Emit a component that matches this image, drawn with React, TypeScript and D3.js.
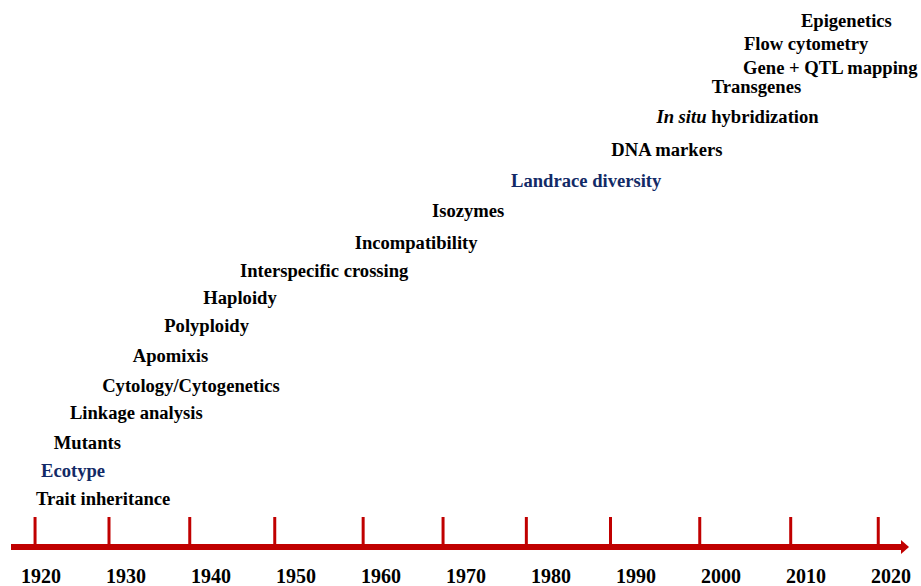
import React from "react";
import * as d3 from "d3";

// year labels on the axis
const yearLabels = [1920, 1930, 1940, 1950, 1960, 1970, 1980, 1990, 2000, 2010, 2020];
// tick marks as drawn on the original (they sit a bit off the labels)
const tickYears = [1919.3, 1928.0, 1937.5, 1947.5, 1957.9, 1967.3, 1977.1, 1987.0, 1997.5, 2008.2, 2018.5];

// milestones: start year of label, stacking level, colour group
const events = [
  "Trait inheritance",
  "Ecotype",
  "Mutants",
  "Linkage analysis",
  "Cytology/Cytogenetics",
  "Apomixis",
  "Polyploidy",
  "Haploidy",
  "Interspecific crossing",
  "Incompatibility",
  "Isozymes",
  "Landrace diversity",
  "DNA markers",
  "In situ hybridization",
  "Transgenes",
  "Gene + QTL mapping",
  "Flow cytometry",
  "Epigenetics",
];
const eventYears = [
  1919.4, 1920.0, 1921.5, 1923.4, 1927.2, 1930.8, 1934.5, 1939.1, 1943.4,
  1956.9, 1966.0, 1975.3, 1987.1, 1992.4, 1998.9, 2002.6, 2002.7, 2009.4,
];
const eventLevels = [
  0, 0.97, 1.93, 2.97, 3.9, 4.93, 5.97, 6.93, 7.86,
  8.83, 9.93, 10.97, 12.03, 13.17, 14.21, 14.86, 15.69, 16.48,
];
const highlighted = ["Ecotype", "Landrace diversity"];

const W = 921;
const H = 586;

const App = () => {
  const x = d3.scaleLinear().domain([1920, 2020]).range([41, 891]);
  const y = d3.scaleLinear().domain([0, 1]).range([505, 476]);

  const axisY = 547;
  const red = "#C00000";
  const blue = "#122A66";
  const font = "'Liberation Serif', 'Times New Roman', serif";

  return (
    <svg
      width={W}
      height={H}
      style={{ position: "absolute", left: 0, top: 0, background: "#fff" }}
      fontFamily={font}
      fontWeight="bold"
      fontSize={18.6}
    >
      {/* main axis with arrow */}
      <line x1={11} x2={902} y1={axisY} y2={axisY} stroke={red} strokeWidth={6} />
      <path d={`M901,${axisY - 7} L909,${axisY} L901,${axisY + 7} Z`} fill={red} />
      {tickYears.map((t, i) => (
        <line
          key={i}
          x1={x(t)}
          x2={x(t)}
          y1={517}
          y2={axisY}
          stroke={red}
          strokeWidth={3}
        />
      ))}
      {yearLabels.map((yr) => (
        <text key={yr} x={x(yr)} y={583} textAnchor="middle" fill="#000" fontSize={20}>
          {yr}
        </text>
      ))}

      {events.map((name, i) => {
        const fill = highlighted.includes(name) ? blue : "#000";
        if (name.startsWith("In situ")) {
          return (
            <text key={name} x={x(eventYears[i])} y={y(eventLevels[i])} fill={fill}>
              <tspan fontStyle="italic">In situ</tspan>
              {" hybridization"}
            </text>
          );
        }
        return (
          <text key={name} x={x(eventYears[i])} y={y(eventLevels[i])} fill={fill}>
            {name}
          </text>
        );
      })}
    </svg>
  );
};

export default App;
